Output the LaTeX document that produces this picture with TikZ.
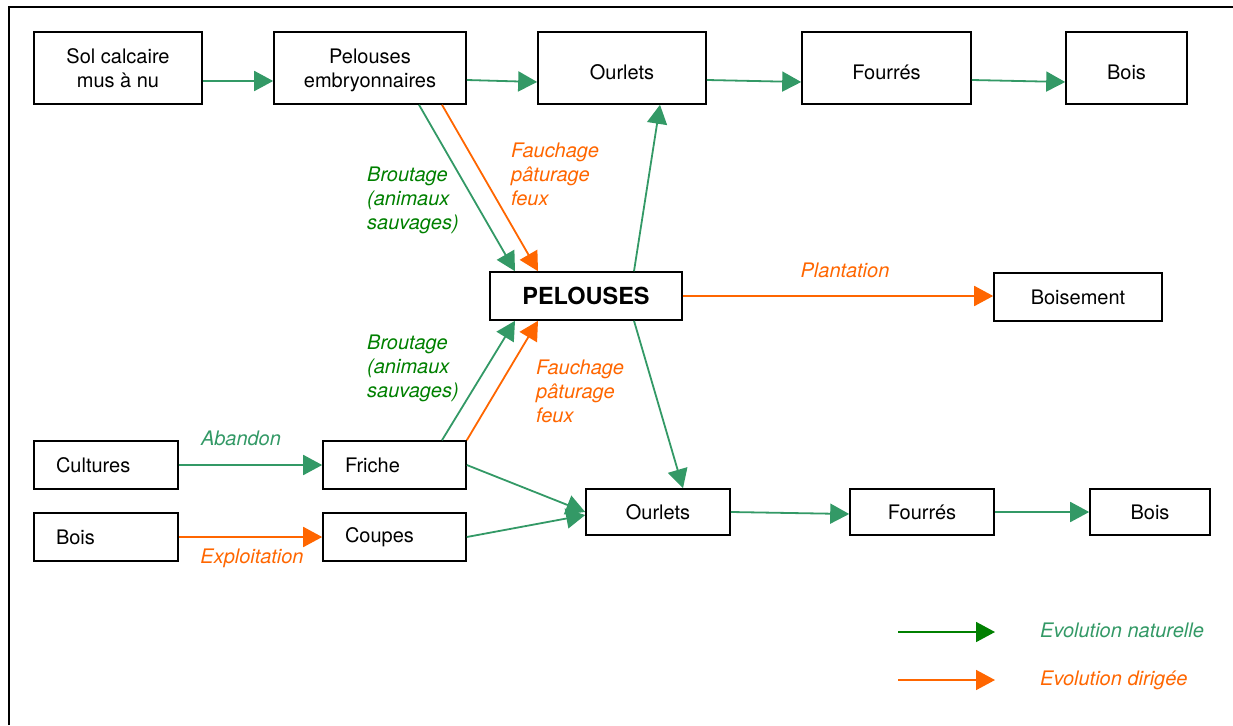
\documentclass[tikz,border=0pt]{standalone}
\usepackage{fontspec}
\setmainfont{TeX Gyre Heros}
\usetikzlibrary{arrows.meta,calc}
\definecolor{natgreen}{HTML}{339966}
\definecolor{dkgreen}{HTML}{008000}
\definecolor{orng}{HTML}{FF6600}
\begin{document}
\begin{tikzpicture}[x=1pt,y=-1pt,
  box/.style={draw, line width=1.6pt, font=\fontsize{20}{24}\selectfont, align=center, inner sep=0pt},
  topbox/.style={box, text height=22pt, text depth=0pt},
  lbox/.style={box, align=left, text width=#1},
  nat/.style={draw=natgreen, line width=1.8pt, -{Triangle[length=19pt,width=20pt]}, fill=natgreen},
  dir/.style={draw=orng, line width=1.8pt, -{Triangle[length=19pt,width=20pt]}, fill=orng},
  lab/.style={font=\fontsize{20}{24}\selectfont\itshape, align=left, inner sep=0pt}
]
\useasboundingbox (0,0) rectangle (1233,725);
% frame
\draw[line width=2.6pt] (9,725) -- (9,7) -- (1233,7);

% top row
\node[box, minimum width=168pt, minimum height=72pt] (sol) at (118,68) {Sol calcaire\\mus à nu};
\node[box, minimum width=192pt, minimum height=72pt] (pe) at (370,68) {\rule{0pt}{18.6pt}Pelouses\\embryonnaires};
\node[topbox, minimum width=168pt, minimum height=72pt] (ot) at (622,68) {Ourlets};
\node[topbox, minimum width=169pt, minimum height=72pt] (ft) at (886.5,68) {Fourrés};
\node[topbox, minimum width=121pt, minimum height=72pt] (bt) at (1126.5,68) {Bois};

% middle
\node[box, minimum width=192pt, minimum height=48pt, font=\fontsize{23.5}{27}\selectfont\bfseries] (pel) at (586,296) {PELOUSES};
\node[box, minimum width=168pt, minimum height=48pt] (boi) at (1078,297) {Boisement};

% bottom left
\node[lbox=100pt, minimum width=144pt, minimum height=48pt] (cul) at (106,465) {Cultures};
\node[lbox=99pt, minimum width=143pt, minimum height=48pt] (fri) at (394.5,465) {Friche};
\node[lbox=100pt, minimum width=144pt, minimum height=48pt] (boisb) at (106,537) {Bois};
\node[lbox=99pt, minimum width=143pt, minimum height=48pt] (cou) at (394.5,537) {Coupes};

% bottom right
\node[box, minimum width=144pt, minimum height=46pt] (ob) at (658,512) {Ourlets};
\node[box, minimum width=144pt, minimum height=46pt] (fb) at (922,512) {Fourrés};
\node[box, minimum width=120pt, minimum height=46pt] (bb) at (1150,512) {Bois};

% top row arrows
\draw[nat] ($(sol.east)+(0,13)$) -- ($(pe.west)+(0,13)$);
\draw[nat] ($(pe.east)+(0,12)$) -- ($(ot.west)+(0,14)$);
\draw[nat] ($(ot.east)+(0,12)$) -- ($(ft.west)+(0,14)$);
\draw[nat] ($(ft.east)+(0,12)$) -- ($(bt.west)+(0,14)$);

% pelouses embryonnaires -> PELOUSES
\draw[nat] ($(pe.south)+(49,0)$) -- ($(pel.north)+(-71,0)$);
\draw[dir] ($(pe.south)+(72,0)$) -- ($(pel.north)+(-48,0)$);

% PELOUSES -> ourlets (top)
\draw[nat] ($(pel.north)+(48,0)$) -- ($(ot.south)+(38,0)$);
% PELOUSES -> Boisement
\draw[dir] (pel.east) -- (pel.east -| boi.west);
% PELOUSES -> ourlets (bottom)
\draw[nat] ($(pel.south)+(48,0)$) -- ($(ob.north)+(25,0)$);

% Friche -> PELOUSES
\draw[nat] ($(fri.north)+(47.5,0)$) -- ($(pel.south)+(-71,0)$);
\draw[dir] (fri.north east) -- ($(pel.south)+(-48,0)$);

% bottom left arrows
\draw[nat] (cul.east) -- (fri.west);
\draw[dir] (boisb.east) -- (cou.west);
\draw[nat] (fri.east) -- (ob.west);
\draw[nat] (cou.east) -- ($(ob.west)+(0,3)$);

% bottom right arrows
\draw[nat] (ob.east) -- ($(fb.west)+(0,2)$);
\draw[nat] (fb.east) -- (bb.west);

% labels
\node[lab, text=dkgreen, anchor=west] (l1) at (367,200) {Broutage\\(animaux\\sauvages)};
\node[lab, text=orng, anchor=west] (l2) at (511,174) {Fauchage\\pâturage\\feux};
\node[lab, text=orng] (l3) at (845,270) {Plantation};
\node[lab, text=dkgreen, anchor=west] (l4) at (367,368) {Broutage\\(animaux\\sauvages)};
\node[lab, text=orng, anchor=west] (l5) at (536,391) {Fauchage\\pâturage\\feux};
\node[lab, text=natgreen] (l6) at (241,438) {Abandon};
\node[lab, text=orng] (l7) at (252,558) {Exploitation};

% legend
\coordinate (g1) at (898,632);
\coordinate (g2) at (995,632);
\coordinate (o1) at (898,680);
\coordinate (o2) at (995,680);
\draw[draw=dkgreen, fill=dkgreen, line width=1.8pt, -{Triangle[length=19pt,width=20pt]}] (g1) -- (g2);
\draw[dir] (o1) -- (o2);
\node[lab, text=natgreen, anchor=west] (t1) at (1040,630) {Evolution naturelle};
\node[lab, text=orng, anchor=west] (t2) at (1040,680) {Evolution dirigée};
\end{tikzpicture}
\end{document}
